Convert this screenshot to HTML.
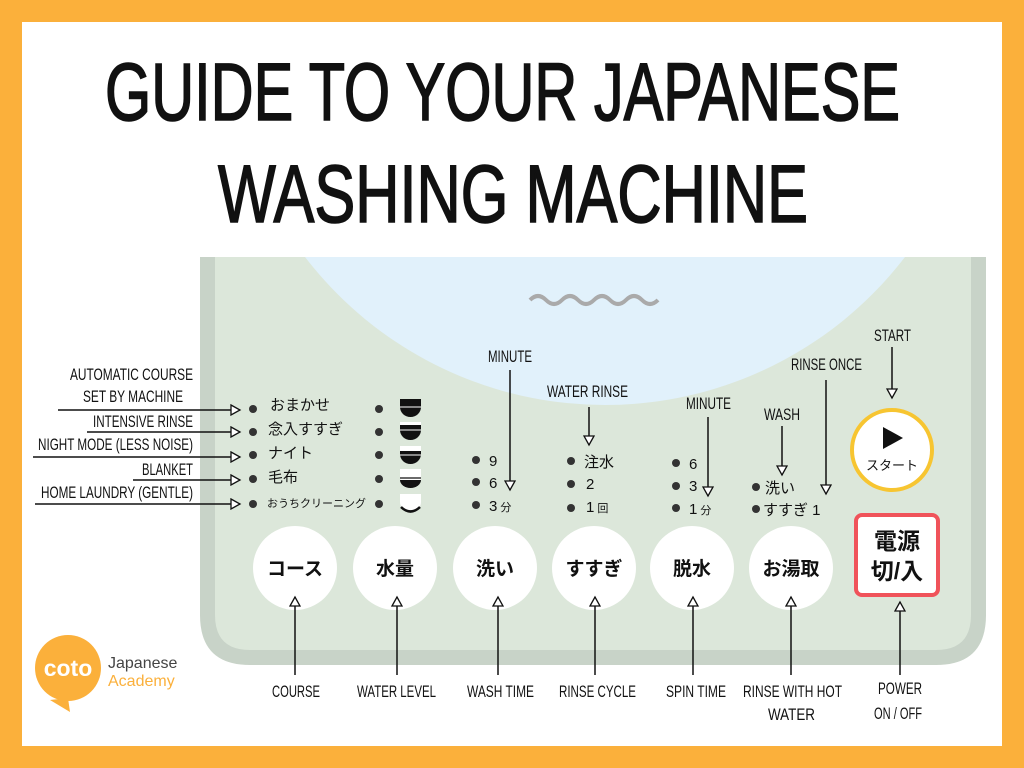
<!DOCTYPE html>
<html><head><meta charset="utf-8"><style>
html,body{margin:0;padding:0;width:1024px;height:768px;overflow:hidden;background:#fbb03b}
svg{display:block}
.c{font-family:"Liberation Sans Narrow","Liberation Sans",sans-serif;fill:#111}
.j{font-family:"Liberation Sans","Noto Sans CJK JP",sans-serif;fill:#111}
</style></head><body>
<svg width="1024" height="768" viewBox="0 0 1024 768" xmlns="http://www.w3.org/2000/svg">
<defs>
<marker id="a" markerWidth="12" markerHeight="12" refX="10" refY="6" orient="auto" markerUnits="userSpaceOnUse">
<path d="M1,1 L10,6 L1,11 Z" fill="#fff" stroke="#111" stroke-width="1.3"/></marker>
<clipPath id="pc"><path d="M215,257 H971 V615 Q971,650 936,650 H250 Q215,650 215,615 Z"/></clipPath>
</defs>
<rect x="0" y="0" width="1024" height="768" fill="#fbb03b"/>
<rect x="22" y="22" width="980" height="724" fill="#fff"/>
<text x="105" y="120" class="c" font-size="82" stroke="#111" stroke-width="1.6" textLength="795" lengthAdjust="spacingAndGlyphs">GUIDE TO YOUR JAPANESE</text>
<text x="218" y="222" class="c" font-size="82" stroke="#111" stroke-width="1.6" textLength="590" lengthAdjust="spacingAndGlyphs">WASHING MACHINE</text>
<!-- panel -->
<path d="M200,257 H986 V615 Q986,665 936,665 H250 Q200,665 200,615 Z" fill="#c8d3c8"/>
<path d="M215,257 H971 V615 Q971,650 936,650 H250 Q215,650 215,615 Z" fill="#dce7da"/>
<circle cx="605" cy="27" r="378" fill="#e1f1fb" clip-path="url(#pc)"/>
<path d="M530,300 q8,-8 16,0 t16,0 t16,0 t16,0 t16,0 t16,0 t16,0 t16,0" fill="none" stroke="#aaa" stroke-width="4"/>
<!-- left labels -->
<g class="c" font-size="17">
<text x="70" y="380" textLength="123" lengthAdjust="spacingAndGlyphs">AUTOMATIC COURSE</text>
<text x="83" y="402" textLength="100" lengthAdjust="spacingAndGlyphs">SET BY MACHINE</text>
<text x="93" y="427" textLength="100" lengthAdjust="spacingAndGlyphs">INTENSIVE RINSE</text>
<text x="38" y="450" textLength="155" lengthAdjust="spacingAndGlyphs">NIGHT MODE (LESS NOISE)</text>
<text x="142" y="475" textLength="51" lengthAdjust="spacingAndGlyphs">BLANKET</text>
<text x="41" y="498" textLength="152" lengthAdjust="spacingAndGlyphs">HOME LAUNDRY (GENTLE)</text>
</g>
<g stroke="#111" stroke-width="1.5" marker-end="url(#a)">
<line x1="58" y1="410" x2="240" y2="410"/>
<line x1="87" y1="432" x2="240" y2="432"/>
<line x1="33" y1="457" x2="240" y2="457"/>
<line x1="133" y1="480" x2="240" y2="480"/>
<line x1="35" y1="504" x2="240" y2="504"/>
</g>
<g fill="#333">
<circle cx="253" cy="409" r="4"/><circle cx="253" cy="432" r="4"/><circle cx="253" cy="455" r="4"/><circle cx="253" cy="479" r="4"/><circle cx="253" cy="504" r="4"/>
<circle cx="379" cy="409" r="4"/><circle cx="379" cy="432" r="4"/><circle cx="379" cy="455" r="4"/><circle cx="379" cy="479" r="4"/><circle cx="379" cy="504" r="4"/>
</g>
<g class="j" font-size="15">
<text x="270" y="410">おまかせ</text>
<text x="268" y="434">念入すすぎ</text>
<text x="268" y="458">ナイト</text>
<text x="268" y="482">毛布</text>
<text x="267" y="507" font-size="11">おうちクリーニング</text>
</g>
<!-- bowls -->
<g>
<g transform="translate(400,399)"><path d="M0,0 H21 V8 A10.5,10 0 0 1 0,8 Z" fill="#111"/><line x1="0" y1="8" x2="21" y2="8" stroke="#fff" stroke-width="1"/></g>
<g transform="translate(400,422)"><path d="M0,0 H21 V8 A10.5,10 0 0 1 0,8 Z" fill="#111"/><rect x="0" y="0" width="21" height="3" fill="#fff"/><line x1="0" y1="8" x2="21" y2="8" stroke="#fff" stroke-width="1"/></g>
<g transform="translate(400,446)"><path d="M0,0 H21 V8 A10.5,10 0 0 1 0,8 Z" fill="#111"/><rect x="0" y="0" width="21" height="5" fill="#fff"/><line x1="0" y1="9" x2="21" y2="9" stroke="#fff" stroke-width="1"/></g>
<g transform="translate(400,469)"><path d="M0,0 H21 V8 A10.5,10 0 0 1 0,8 Z" fill="#fff"/><path d="M0,11 H21 A10.5,8 0 0 1 0,11 Z" fill="#111"/><line x1="0" y1="9" x2="21" y2="9" stroke="#111" stroke-width="1.3"/></g>
<g transform="translate(400,494)"><path d="M0,0 H21 V8 A10.5,10 0 0 1 0,8 Z" fill="#fff"/><path d="M1,13 Q10.5,22 20,13" fill="none" stroke="#111" stroke-width="2.5"/></g>
</g>
<!-- middle options -->
<g class="c" font-size="17">
<text x="488" y="362" textLength="44" lengthAdjust="spacingAndGlyphs">MINUTE</text>
<text x="547" y="397" textLength="81" lengthAdjust="spacingAndGlyphs">WATER RINSE</text>
<text x="686" y="409" textLength="45" lengthAdjust="spacingAndGlyphs">MINUTE</text>
<text x="764" y="420" textLength="36" lengthAdjust="spacingAndGlyphs">WASH</text>
<text x="791" y="370" textLength="71" lengthAdjust="spacingAndGlyphs">RINSE ONCE</text>
<text x="874" y="341" textLength="37" lengthAdjust="spacingAndGlyphs">START</text>
</g>
<g stroke="#111" stroke-width="1.5" marker-end="url(#a)">
<line x1="510" y1="370" x2="510" y2="490"/>
<line x1="589" y1="407" x2="589" y2="445"/>
<line x1="708" y1="417" x2="708" y2="496"/>
<line x1="782" y1="426" x2="782" y2="475"/>
<line x1="826" y1="380" x2="826" y2="494"/>
<line x1="892" y1="347" x2="892" y2="398"/>
</g>
<g fill="#333">
<circle cx="476" cy="460" r="4"/><circle cx="476" cy="482" r="4"/><circle cx="476" cy="505" r="4"/>
<circle cx="571" cy="461" r="4"/><circle cx="571" cy="484" r="4"/><circle cx="571" cy="508" r="4"/>
<circle cx="676" cy="463" r="4"/><circle cx="676" cy="486" r="4"/><circle cx="676" cy="508" r="4"/>
<circle cx="756" cy="487" r="4"/><circle cx="756" cy="509" r="4"/>
</g>
<g class="j" font-size="15">
<text x="489" y="466">9</text><text x="489" y="488">6</text><text x="489" y="511">3<tspan font-size="11"> 分</tspan></text>
<text x="584" y="467">注水</text><text x="586" y="489">2</text><text x="586" y="512">1<tspan font-size="11"> 回</tspan></text>
<text x="689" y="469">6</text><text x="689" y="491">3</text><text x="689" y="514">1<tspan font-size="11"> 分</tspan></text>
<text x="765" y="493">洗い</text><text x="763" y="515">すすぎ 1</text>
</g>
<!-- start -->
<circle cx="892" cy="450" r="40" fill="#fff" stroke="#f7c531" stroke-width="4"/>
<path d="M883,427 V449 L903,438 Z" fill="#111"/>
<text x="892" y="470" class="j" font-size="13" text-anchor="middle">スタート</text>
<!-- buttons -->
<g fill="#fff">
<circle cx="295" cy="568" r="42"/><circle cx="395" cy="568" r="42"/><circle cx="495" cy="568" r="42"/>
<circle cx="594" cy="568" r="42"/><circle cx="692" cy="568" r="42"/><circle cx="791" cy="568" r="42"/>
</g>
<g class="j" font-size="19" font-weight="bold" text-anchor="middle">
<text x="295" y="575">コース</text><text x="395" y="575">水量</text><text x="495" y="575">洗い</text>
<text x="594" y="575">すすぎ</text><text x="692" y="575">脱水</text><text x="791" y="575">お湯取</text>
</g>
<rect x="856" y="515" width="82" height="80" rx="6" fill="#fff" stroke="#f0535a" stroke-width="4"/>
<g class="j" font-size="23" font-weight="bold" text-anchor="middle">
<text x="897" y="549">電源</text><text x="897" y="579">切/入</text>
</g>
<!-- bottom arrows -->
<g stroke="#111" stroke-width="1.5" marker-end="url(#a)">
<line x1="295" y1="675" x2="295" y2="597"/><line x1="397" y1="675" x2="397" y2="597"/>
<line x1="498" y1="675" x2="498" y2="597"/><line x1="595" y1="675" x2="595" y2="597"/>
<line x1="693" y1="675" x2="693" y2="597"/><line x1="791" y1="675" x2="791" y2="597"/>
<line x1="900" y1="675" x2="900" y2="602"/>
</g>
<g class="c" font-size="17">
<text x="272" y="697" textLength="48" lengthAdjust="spacingAndGlyphs">COURSE</text>
<text x="357" y="697" textLength="79" lengthAdjust="spacingAndGlyphs">WATER LEVEL</text>
<text x="467" y="697" textLength="67" lengthAdjust="spacingAndGlyphs">WASH TIME</text>
<text x="559" y="697" textLength="77" lengthAdjust="spacingAndGlyphs">RINSE CYCLE</text>
<text x="666" y="697" textLength="60" lengthAdjust="spacingAndGlyphs">SPIN TIME</text>
<text x="743" y="697" textLength="99" lengthAdjust="spacingAndGlyphs">RINSE WITH HOT</text>
<text x="768" y="720" textLength="47" lengthAdjust="spacingAndGlyphs">WATER</text>
<text x="878" y="694" textLength="44" lengthAdjust="spacingAndGlyphs">POWER</text>
<text x="874" y="719" textLength="48" lengthAdjust="spacingAndGlyphs">ON / OFF</text>
</g>
<!-- logo -->
<path d="M50,700 L70,712 L68,698 Z" fill="#fbb03b"/>
<circle cx="68" cy="668" r="33" fill="#fbb03b"/>
<text x="68" y="676" font-family="Liberation Sans,sans-serif" font-size="23" font-weight="bold" fill="#fff" text-anchor="middle">coto</text>
<text x="108" y="668" font-family="Liberation Sans,sans-serif" font-size="16" fill="#444">Japanese</text>
<text x="108" y="686" font-family="Liberation Sans,sans-serif" font-size="16" fill="#fbb03b">Academy</text>
</svg>
</body></html>
